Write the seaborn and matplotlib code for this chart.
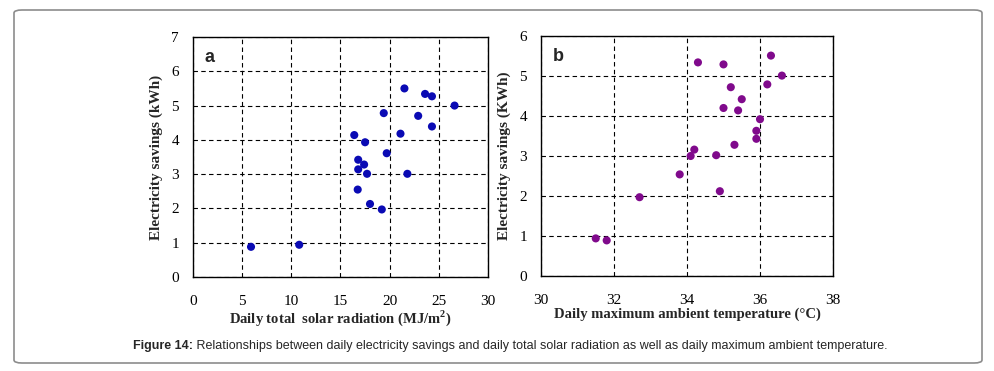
import matplotlib
matplotlib.use("Agg")
import matplotlib.pyplot as plt
from matplotlib.patches import FancyBboxPatch
import seaborn as sns
import pandas as pd

# Panel a: daily total solar radiation (MJ/m2) vs electricity savings (kWh)
solar_radiation = [5.9, 10.8, 16.4, 17.5, 16.8, 16.8, 17.4, 17.7, 16.75, 18.0, 19.2,
                   19.4, 19.7, 21.5, 21.1, 21.8, 22.9, 23.6, 24.3, 24.3, 26.6]
savings_a = [0.88, 0.94, 4.14, 3.93, 3.42, 3.14, 3.28, 3.01, 2.55, 2.13, 1.97,
             4.78, 3.61, 5.50, 4.18, 3.01, 4.70, 5.34, 5.27, 4.39, 5.00]

# Panel b: daily maximum ambient temperature (degC) vs electricity savings (kWh)
max_temperature = [31.5, 31.8, 32.7, 33.8, 34.1, 34.2, 34.3, 34.8, 34.9, 35.0, 35.0,
                   35.2, 35.3, 35.4, 35.5, 35.9, 35.9, 36.0, 36.2, 36.3, 36.6]
savings_b = [0.94, 0.89, 1.97, 2.54, 3.00, 3.16, 5.34, 3.02, 2.12, 5.29, 4.20,
             4.72, 3.28, 4.14, 4.42, 3.63, 3.43, 3.92, 4.79, 5.51, 5.01]

df_a = pd.DataFrame({"x": solar_radiation, "y": savings_a})
df_b = pd.DataFrame({"x": max_temperature, "y": savings_b})

sns.set_style("white")
plt.rcParams["font.family"] = ["Liberation Serif", "DejaVu Serif"]
plt.rcParams["mathtext.fontset"] = "custom"
plt.rcParams["mathtext.rm"] = "Liberation Serif"
plt.rcParams["mathtext.bf"] = "Liberation Serif:bold"

fig = plt.figure(figsize=(9.95, 3.71), dpi=100)
W, H = 995, 371

def px_axes(left, top, right, bottom):
    return fig.add_axes([left / W, 1 - bottom / H, (right - left) / W, (bottom - top) / H])

ax_a = px_axes(193, 37, 488, 277)
ax_b = px_axes(541, 36, 833, 276)

sns.scatterplot(data=df_a, x="x", y="y", ax=ax_a, color="#0a0ab4", s=34,
                edgecolor="none", zorder=3)
sns.scatterplot(data=df_b, x="x", y="y", ax=ax_b, color="#800a8c", s=34,
                edgecolor="none", zorder=3)

ax_a.set_xlim(0, 30)
ax_a.set_ylim(0, 7)
ax_a.set_xticks(range(0, 31, 5))
ax_a.set_yticks(range(0, 8))
ax_b.set_xlim(30, 38)
ax_b.set_ylim(0, 6)
ax_b.set_xticks(range(30, 39, 2))
ax_b.set_yticks(range(0, 7))

for ax, letter in [(ax_a, "a"), (ax_b, "b")]:
    ax.grid(True, color="black", linestyle=(0, (4, 3)), linewidth=0.8)
    ax.set_axisbelow(True)
    for sp in ax.spines.values():
        sp.set_visible(True)
        sp.set_color("black")
        sp.set_linewidth(1.0)
    ax.tick_params(axis="both", direction="out", length=4, width=1,
                   labelsize=11, colors="black", pad=6)
    ax.tick_params(axis="x", pad=9)
    ax.text(0.04, 0.95, letter, transform=ax.transAxes, ha="left", va="top",
            fontsize=13, fontweight="bold", family=["Liberation Sans", "DejaVu Sans"])

ax_a.set_xlabel("Daily total  solar radiation (MJ/m$^{\\mathbf{2}}$)", fontsize=10.5,
                fontweight="bold", labelpad=0)
ax_a.set_ylabel("Electricity savings (kWh)", fontsize=11, fontweight="bold", labelpad=6)
ax_b.set_xlabel("Daily maximum ambient temperature (°C)", fontsize=10.5,
                fontweight="bold", labelpad=0)
ax_b.set_ylabel("Electricity savings (KWh)", fontsize=11, fontweight="bold", labelpad=6)

# rounded frame around the figure
frame = FancyBboxPatch((14 / W, 1 - 363 / H), (982 - 14) / W, (363 - 10) / H,
                       boxstyle="round,pad=0,rounding_size=0.008",
                       transform=fig.transFigure, facecolor="none",
                       edgecolor="#8c8c8c", linewidth=1.2)
fig.patches.append(frame)

# caption: bold lead-in followed by normal text
cap_font = ["Liberation Sans", "DejaVu Sans"]
cap_size = 9
renderer = fig.canvas.get_renderer()
t_bold = fig.text(0, 1 - 346 / H, "Figure 14:", ha="left", va="center",
                  fontsize=cap_size, fontweight="bold", family=cap_font)
t_rest = fig.text(0, 1 - 346 / H, " Relationships between daily electricity savings and daily "
                  "total solar radiation as well as daily maximum ambient temperature.",
                  ha="left", va="center", fontsize=cap_size, family=cap_font)
wb = t_bold.get_window_extent(renderer).width
wr = t_rest.get_window_extent(renderer).width
x0 = 510 - (wb + wr) / 2
t_bold.set_x(x0 / W)
t_rest.set_x((x0 + wb) / W)

fig.savefig("out.png", dpi=100)
